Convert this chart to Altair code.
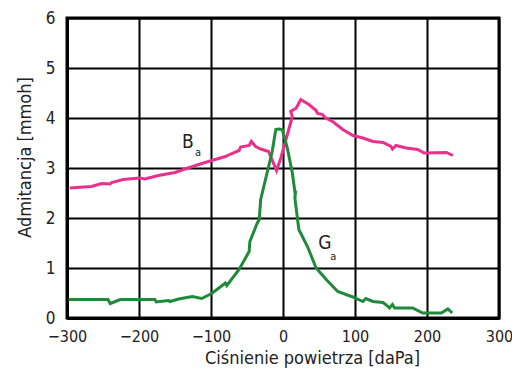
import altair as alt
import pandas as pd

# Ba (susceptance) curve
ba_x = [-296, -266, -252, -240, -238, -222, -199, -192, -173, -150, -136, -117, -99, -80, -71, -61, -59, -47, -44, -38, -31, -20, -9, -3, 13, 10.7, 18.5, 24.7, 36, 46, 48, 55, 59, 69, 83, 97, 111, 125, 139, 150, 152, 157, 171, 187, 196, 227, 236]
ba_y = [2.60, 2.63, 2.69, 2.68, 2.71, 2.77, 2.80, 2.78, 2.85, 2.91, 2.98, 3.07, 3.15, 3.23, 3.29, 3.35, 3.42, 3.45, 3.53, 3.43, 3.38, 3.33, 2.95, 3.20, 4.03, 4.13, 4.20, 4.37, 4.27, 4.15, 4.09, 4.07, 4.00, 3.93, 3.77, 3.65, 3.60, 3.53, 3.51, 3.43, 3.38, 3.45, 3.40, 3.37, 3.30, 3.31, 3.25]

# Ga (conductance) curve
ga_x = [-298, -243, -240, -226, -178, -176, -159, -157, -145, -126, -113, -99, -80, -78, -61, -47, -46, -36, -33, -31, -20, -15, -10, -6, -1, 6, 13, 17, 17.7, 16.5, 22, 34, 46, 60, 76, 97, 111, 115, 125, 139, 146, 148, 152, 155, 180, 194, 220, 229, 235]
ga_y = [0.37, 0.37, 0.29, 0.37, 0.37, 0.32, 0.35, 0.33, 0.38, 0.43, 0.39, 0.49, 0.70, 0.65, 0.97, 1.33, 1.53, 1.89, 1.97, 2.37, 3.03, 3.33, 3.77, 3.78, 3.77, 3.40, 2.90, 2.47, 2.55, 2.40, 1.77, 1.43, 1.00, 0.77, 0.53, 0.42, 0.33, 0.39, 0.33, 0.31, 0.23, 0.20, 0.27, 0.20, 0.20, 0.10, 0.10, 0.18, 0.10]

# Annotation labels
lab_text = ["B", "a", "G", "a"]
lab_x = [-132, -118, 58, 70]
lab_y = [3.53, 3.31, 1.51, 1.23]
lab_size = [19, 11, 19, 11]

x_ticks = [-300, -200, -100, 0, 100, 200, 300]
y_ticks = [0, 1, 2, 3, 4, 5, 6]

FONT = "'DejaVu Sans Condensed', 'Liberation Sans Narrow', 'Liberation Sans', sans-serif"

ba = pd.DataFrame({"x": ba_x, "y": ba_y, "i": range(len(ba_x))})
ga = pd.DataFrame({"x": ga_x, "y": ga_y, "i": range(len(ga_x))})
labs = pd.DataFrame({"t": lab_text, "x": lab_x, "y": lab_y, "s": lab_size})

xs = alt.Scale(domain=[-300, 300], nice=False)
ys = alt.Scale(domain=[0, 6], nice=False)

xaxis = alt.Axis(values=x_ticks, title="Ciśnienie powietrza [daPa]", grid=True,
                 gridColor="black", gridWidth=2, gridOpacity=1,
                 domainColor="black", domainWidth=3, ticks=False,
                 labelFont=FONT, labelFontSize=16, labelColor="#222", labelPadding=10,
                 titleFont=FONT, titleFontSize=18, titleFontWeight="normal", titleColor="#222",
                 titlePadding=5, titleX=245, labelFlush=False,
                 labelExpr="replace(datum.label, '-', '\u2212')")
yaxis = alt.Axis(values=y_ticks, title="Admitancja [mmoh]", grid=True,
                 gridColor="black", gridWidth=2, gridOpacity=1,
                 domainColor="black", domainWidth=3, ticks=False,
                 labelFont=FONT, labelFontSize=17, labelColor="#222", labelPadding=12,
                 titleFont=FONT, titleFontSize=18, titleFontWeight="normal", titleColor="#222",
                 titlePadding=11, titleY=139, labelFlush=False)

base_x = alt.X("x:Q", scale=xs, axis=xaxis)
base_y = alt.Y("y:Q", scale=ys, axis=yaxis)

l_ba = alt.Chart(ba).mark_line(color="#e8308c", strokeWidth=3).encode(
    x=base_x, y=base_y, order="i:Q")
l_ga = alt.Chart(ga).mark_line(color="#1e8a3a", strokeWidth=3).encode(
    x=alt.X("x:Q", scale=xs), y=alt.Y("y:Q", scale=ys), order="i:Q")
txt = alt.Chart(labs).mark_text(font=FONT, color="#222", align="center", baseline="middle").encode(
    x=alt.X("x:Q", scale=xs), y=alt.Y("y:Q", scale=ys), text="t:N",
    size=alt.Size("s:Q", scale=None, legend=None))

chart = alt.layer(l_ba, l_ga, txt).properties(
    width=432, height=300,
    autosize=alt.AutoSizeParams(type="none"),
    padding={"left": 67, "top": 18, "right": 13, "bottom": 54},
    background="white",
).configure_view(stroke="black", strokeWidth=3)

chart.save("out.html", embed_options={"renderer": "svg", "actions": False})
